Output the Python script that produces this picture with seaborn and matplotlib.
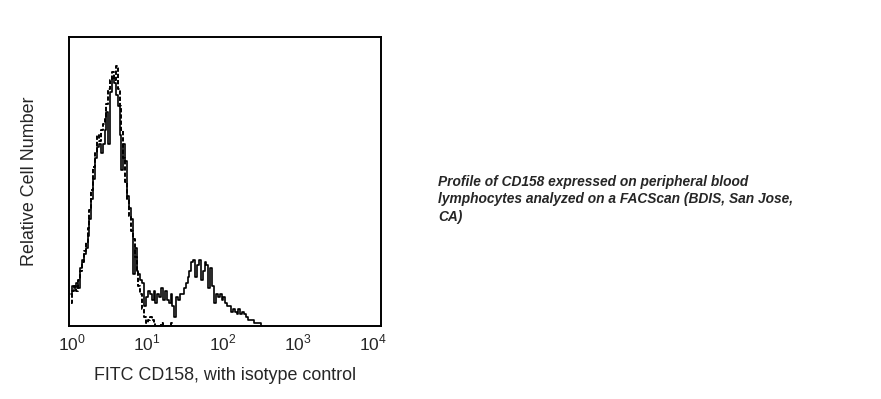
#dependencies
import numpy as np
import pandas as pd
import matplotlib
matplotlib.use("Agg")
import matplotlib.pyplot as plt
import seaborn as sns

# histogram counts (relative, 0-100 = full axis height), 40 channels per decade from 10^0
cd158 = [11, 14, 13, 15, 13, 20, 23, 25, 27, 31,
         37, 44, 51, 58, 62, 63, 60, 63, 68, 74,
         63, 81, 86, 84, 80, 76, 66, 54, 63, 57,
         45, 41, 37, 18, 27, 19, 18, 16, 15, 7,
         10, 12, 11, 9, 12, 8, 11, 10, 13, 9,
         12, 9, 8, 11, 7, 3, 10, 9, 11, 11,
         13, 15, 17, 19, 22, 23, 17, 21, 23, 16,
         19, 22, 21, 13, 20, 14, 8, 11, 10, 11,
         9, 10, 8, 7, 7, 5, 6, 5, 4, 6,
         4, 5, 4, 3, 2, 2, 2, 1, 1, 1,
         1, 0]
isotype = [8, 12, 14, 12, 16, 19, 22, 26, 29, 34,
           40, 47, 55, 60, 66, 64, 68, 70, 72, 77,
           82, 85, 88, 85, 90, 82, 76, 68, 58, 50,
           44, 38, 33, 30, 24, 19, 14, 11, 6, 3,
           1, 2, 3, 2, 1, 0, 0, 0, 1, 0,
           0, 0, 0, 1, 0]
per_decade = 40
decade_ticks = [1, 10, 100, 1000, 10000]
tick_labels = ["$10^{0}$", "$10^{1}$", "$10^{2}$", "$10^{3}$", "$10^{4}$"]

df_cd = pd.DataFrame({"fl": 10 ** (np.arange(len(cd158)) / per_decade), "count": cd158})
df_iso = pd.DataFrame({"fl": 10 ** (np.arange(len(isotype)) / per_decade), "count": isotype})

sns.set_style("white")
plt.rcParams['font.family'] = ['Liberation Sans', 'DejaVu Sans']
plt.rcParams['mathtext.fontset'] = 'custom'
plt.rcParams['mathtext.rm'] = 'Liberation Sans'

fig = plt.figure(figsize=(8.81, 3.99), dpi=100)
ax = fig.add_axes([0.0783, 0.183, 0.3541, 0.724])

sns.lineplot(data=df_iso, x="fl", y="count", ax=ax, color="black", lw=1.4,
             sort=False, estimator=None, drawstyle="steps-mid", linestyle=(0, (2.2, 1.0)))
sns.lineplot(data=df_cd, x="fl", y="count", ax=ax, color="black", lw=1.2,
             sort=False, estimator=None, drawstyle="steps-mid")

ax.set_xscale("log")
ax.set_xlim(10 ** -0.033, 10 ** 4.1)
ax.set_ylim(0, 100)
ax.set_xticks(decade_ticks)
ax.set_xticklabels(tick_labels, fontsize=12.5)
ax.minorticks_off()
ax.set_yticks([])
ax.tick_params(axis="x", length=0, pad=5)
for s in ax.spines.values():
    s.set_visible(True)
    s.set_color("black")
    s.set_linewidth(1.4)

ax.set_xlabel("FITC CD158, with isotype control", fontsize=12.9, labelpad=10)
ax.set_ylabel("Relative Cell Number", fontsize=12.9, labelpad=22)

fig.text(0.497, 0.562, "Profile of CD158 expressed on peripheral blood\n"
         "lymphocytes analyzed on a FACScan (BDIS, San Jose,\nCA)",
         fontsize=9.95, fontweight="bold", fontstyle="italic", ha="left", va="top",
         linespacing=1.33)

fig.savefig("out.png", dpi=100)
